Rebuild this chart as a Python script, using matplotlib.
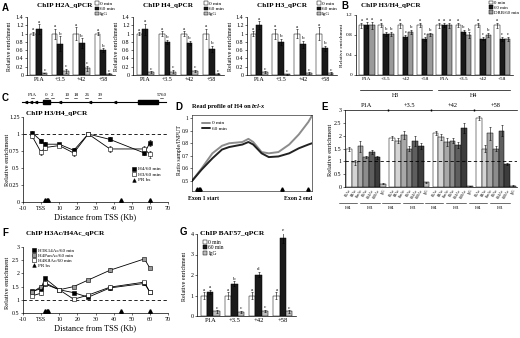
import matplotlib
matplotlib.use("Agg")
import matplotlib.pyplot as plt
import numpy as np
from matplotlib.lines import Line2D
from matplotlib.patches import Patch, Rectangle

plt.rcParams['font.family'] = ['Liberation Serif', 'DejaVu Serif']
plt.rcParams['axes.linewidth'] = 0.5
plt.rcParams['xtick.major.width'] = 0.4
plt.rcParams['ytick.major.width'] = 0.4
plt.rcParams['xtick.major.size'] = 1.5
plt.rcParams['ytick.major.size'] = 1.5
plt.rcParams['xtick.major.pad'] = 1.5
plt.rcParams['ytick.major.pad'] = 1.0

# ---------------- data ----------------
groups4 = ['P1A', '+3.5', '+42', '+58']

# Panel A: H2A
h2a_0 = [1.0, 1.0, 1.0, 1.0]
h2a_60 = [1.10, 0.75, 0.77, 0.60]
h2a_igg = [0.05, 0.10, 0.16, 0.03]
h2a_e0 = [0.04, 0.12, 0.15, 0.03]
h2a_e60 = [0.12, 0.18, 0.12, 0.04]
h2a_ei = [0.01, 0.05, 0.06, 0.01]
h2a_let = [['a', 'a', 'a', 'a'], ['a', 'b', 'b', 'b'], ['c', 'c', 'c', 'c']]
# Panel A: H4
h4_0 = [1.0, 1.0, 1.0, 1.0]
h4_60 = [1.10, 0.80, 0.77, 0.63]
h4_igg = [0.07, 0.08, 0.10, 0.03]
h4_e0 = [0.03, 0.05, 0.06, 0.12]
h4_e60 = [0.13, 0.05, 0.05, 0.08]
h4_ei = [0.02, 0.04, 0.02, 0.01]
h4_let = [['a', 'a', 'a', 'a'], ['a', 'b', 'b', 'b'], ['c', 'c', 'c', 'c']]
# Panel A: H3
h3_0 = [1.0, 1.0, 1.0, 1.0]
h3_60 = [1.20, 0.80, 0.74, 0.64]
h3_igg = [0.07, 0.02, 0.05, 0.05]
h3_e0 = [0.06, 0.12, 0.10, 0.15]
h3_e60 = [0.10, 0.08, 0.08, 0.06]
h3_ei = [0.02, 0.01, 0.02, 0.02]
h3_let = [['a', 'a', 'a', 'a'], ['a', 'b', 'b', 'b'], ['c', 'c', 'c', 'c']]

# Panel B: H3/H4 with DRB
b_groups = groups4 + groups4
b_0 = [1.0, 1.0, 1.0, 1.0, 1.0, 1.0, 1.0, 1.0]
b_60 = [1.0, 0.82, 0.76, 0.72, 1.0, 0.86, 0.73, 0.72]
b_drb = [1.0, 0.82, 0.86, 0.82, 1.0, 0.80, 0.80, 0.72]
b_e0 = [0.05, 0.04, 0.05, 0.04, 0.05, 0.04, 0.04, 0.05]
b_e60 = [0.06, 0.04, 0.04, 0.04, 0.04, 0.04, 0.03, 0.04]
b_edrb = [0.07, 0.04, 0.04, 0.03, 0.05, 0.05, 0.04, 0.04]
b_let = [['a'] * 8,
         ['a', 'b', 'c', 'c', 'a', 'b', 'c', 'c'],
         ['a', 'b', 'b', 'b', 'a', 'b', 'b', 'c']]

# Panel C: H3/H4 profile
c_x = [-5, 0, 2, 10, 18, 26, 38, 57, 60]
c_h4 = [1.02, 0.90, 0.85, 0.85, 0.76, 1.00, 0.92, 0.72, 0.87]
c_h3 = [0.97, 0.73, 0.80, 0.83, 0.72, 1.00, 0.78, 0.78, 0.70]
c_h4e = [0.02, 0.03, 0.03, 0.02, 0.03, 0.02, 0.03, 0.03, 0.04]
c_h3e = [0.03, 0.04, 0.04, 0.02, 0.04, 0.02, 0.04, 0.05, 0.05]
pr_bs = [2, 3, 4, 44, 60]
gene_labels = ['P1A', '0', '2', '10', '18', '26', '39', '5760']

# Panel D: read profile
d_x = [0.0, 0.08, 0.17, 0.25, 0.31, 0.42, 0.47, 0.51, 0.58, 0.64, 0.72, 0.81, 0.89, 0.97, 1.0]
d_0 = [0.50, 0.60, 0.72, 0.78, 0.80, 0.81, 0.835, 0.81, 0.73, 0.72, 0.73, 0.79, 0.87, 0.97, 1.02]
d_60 = [0.50, 0.59, 0.68, 0.75, 0.77, 0.79, 0.81, 0.79, 0.72, 0.69, 0.695, 0.72, 0.76, 0.79, 0.80]
d_pr = [0.04, 0.055, 0.07, 0.75, 0.97]

# Panel E: acetylation marks
e_marks = ['K5Ac', 'K8Ac', 'PanAc', 'K9Ac', 'K14Ac', 'K18Ac', 'IgG']
e_vals = [[1.48, 0.97, 1.58, 1.18, 1.38, 1.15, 0.12],
          [1.90, 1.80, 2.02, 1.50, 1.80, 1.60, 0.18],
          [2.10, 1.95, 1.75, 1.80, 1.65, 2.30, 0.03],
          [2.70, 1.50, 2.10, 1.50, 2.20, 0.90, 0.05]]
e_errs = [[0.08, 0.10, 0.20, 0.04, 0.08, 0.04, 0.02],
          [0.08, 0.10, 0.15, 0.10, 0.20, 0.10, 0.02],
          [0.07, 0.12, 0.15, 0.10, 0.12, 0.20, 0.01],
          [0.08, 0.15, 0.25, 0.10, 0.20, 0.03, 0.01]]

# Panel F: acetylation profile
f_x = [-5, 0, 2, 10, 18, 26, 38, 57, 60]
f_h3k14 = [1.32, 1.42, 1.82, 1.38, 1.27, 1.10, 1.45, 1.62, 1.30]
f_h4pan = [1.28, 1.50, 1.60, 1.38, 1.50, 1.75, 2.12, 2.55, 2.20]
f_h4k8 = [1.15, 1.25, 1.65, 1.38, 1.02, 1.18, 1.48, 1.67, 1.28]
f_err = [0.05, 0.06, 0.06, 0.06, 0.04, 0.04, 0.08, 0.05, 0.05]

# Panel G: BAF57
g_0 = [1.0, 1.0, 1.0, 1.0]
g_60 = [1.18, 1.57, 2.02, 3.80]
g_igg = [0.22, 0.20, 0.25, 0.22]
g_e0 = [0.15, 0.15, 0.15, 0.15]
g_e60 = [0.10, 0.12, 0.12, 0.25]
g_ei = [0.05, 0.05, 0.05, 0.05]
g_let = [['a', 'a', 'a', 'a'], ['a', 'b', 'd', 'e'], ['c', 'c', 'c', 'c']]

# ---------------- layout helpers ----------------
W, H = 520, 338
fig = plt.figure(figsize=(5.2, 3.38), dpi=100)


def add_ax(x0, y0, x1, y1):
    return fig.add_axes([x0 / W, 1 - y1 / H, (x1 - x0) / W, (y1 - y0) / H])


def ftext(x, y, s, **kw):
    fig.text(x / W, 1 - y / H, s, **kw)


def letter(x, y, s):
    ftext(x, y, s, fontsize=7, fontweight='bold', family='Liberation Sans',
          ha='left', va='center')


def style(ax, fs=4.3):
    ax.spines['top'].set_visible(False)
    ax.spines['right'].set_visible(False)
    ax.tick_params(labelsize=fs)


C_WHITE, C_BLACK, C_GRAY = 'white', '#1a1a1a', '#bdbdbd'
EKW = dict(elinewidth=0.4, capsize=0.8, capthick=0.4, ecolor='black')


def bars3(ax, labels, vals, errs, lets, colors, w=0.26, lfs=3.6):
    x = np.arange(len(labels))
    for k, (v, e, c) in enumerate(zip(vals, errs, colors)):
        xs = x + (k - 1) * w
        ax.bar(xs, v, w, color=c, edgecolor='black', linewidth=0.35,
               yerr=e, error_kw=EKW)
        for xi, vi, ei, L in zip(xs, v, e, lets[k]):
            ax.text(xi, vi + ei + 0.01 * ax.get_ylim()[1], L, ha='center',
                    va='bottom', fontsize=lfs)
    ax.set_xticks(x)
    ax.set_xticklabels(labels)
    ax.set_xlim(-0.55, len(labels) - 0.45)
    ax.tick_params(axis='x', length=0)


def legend3(ax, names, colors, loc, bbox, fs=3.8):
    hs = [Patch(facecolor=c, edgecolor='black', linewidth=0.35) for c in colors]
    ax.legend(hs, names, loc=loc, bbox_to_anchor=bbox, frameon=False,
              fontsize=fs, handlelength=0.7, handleheight=0.7,
              handletextpad=0.3, labelspacing=0.1, borderpad=0,
              borderaxespad=0)


def mk(marker, fc, label, ms=2.6):
    return Line2D([], [], ls='none', marker=marker, ms=ms, mfc=fc, mec='black',
                  mew=0.4, label=label)


# ---------------- Panel A ----------------
letter(2, 8, 'A')
a_specs = [((27, 115), 'ChIP H2A_qPCR', (h2a_0, h2a_60, h2a_igg), (h2a_e0, h2a_e60, h2a_ei), h2a_let, 10),
           ((133, 224), 'ChIP H4_qPCR', (h4_0, h4_60, h4_igg), (h4_e0, h4_e60, h4_ei), h4_let, 117),
           ((247, 337), 'ChIP H3_qPCR', (h3_0, h3_60, h3_igg), (h3_e0, h3_e60, h3_ei), h3_let, 231)]
for (x0, x1), title, vals, errs, lets, ylx in a_specs:
    ax = add_ax(x0, 17, x1, 75)
    ax.set_ylim(0, 1.4)
    ax.set_yticks([0, 0.2, 0.4, 0.6, 0.8, 1.0, 1.2, 1.4])
    ax.set_yticklabels(['0', '0.2', '0.4', '0.6', '0.8', '1', '1.2', '1.4'])
    bars3(ax, groups4, vals, errs, lets, [C_WHITE, C_BLACK, C_GRAY])
    style(ax)
    ftext(x0 + 10, 6, title, fontsize=5.2, fontweight='bold', ha='left', va='center')
    ftext(ylx, 46, 'Relative enrichment', fontsize=4.3, rotation=90, ha='center', va='center')
    legend3(ax, ['0 min', '60 min', 'IgG'], [C_WHITE, C_BLACK, C_GRAY],
            'upper right', (1.0, 1.27))

# ---------------- Panel B ----------------
letter(341, 6, 'B')
axb = add_ax(356, 15, 513, 75)
axb.set_ylim(0, 1.2)
axb.set_yticks([0, 0.4, 0.8, 1.2])
axb.set_yticklabels(['0', '0.4', '0.8', '1.2'])
bars3(axb, b_groups, (b_0, b_60, b_drb), (b_e0, b_e60, b_edrb), b_let,
      [C_WHITE, C_BLACK, '#9a9a9a'], w=0.27, lfs=3.4)
style(axb, 3.8)
ftext(361, 6, 'ChIP H3/H4_qPCR', fontsize=5.0, fontweight='bold', ha='left', va='center')
ftext(342, 45, 'Relative enrichment', fontsize=3.9, rotation=90, ha='center', va='center')
legend3(axb, ['0 min', '60 min', 'DRB/60 min'], [C_WHITE, C_BLACK, '#9a9a9a'],
        'upper right', (1.04, 1.24), fs=3.5)
fig.add_artist(Line2D([360 / W, 432 / W], [1 - 90 / H] * 2, color='black', lw=0.5))
fig.add_artist(Line2D([438 / W, 510 / W], [1 - 90 / H] * 2, color='black', lw=0.5))
ftext(396, 95.5, 'H3', fontsize=4.3, ha='center', va='center')
ftext(474, 95.5, 'H4', fontsize=4.3, ha='center', va='center')

# ---------------- Panel C ----------------
letter(2, 98, 'C')
axg = add_ax(20, 92, 170, 107)
axg.set_xlim(20, 170)
axg.set_ylim(0, 15)
axg.axis('off')
axg.plot([22, 166], [5, 5], color='black', lw=0.8)
axg.add_patch(Rectangle((43, 3), 7, 4, color='black'))
axg.add_patch(Rectangle((138, 2.6), 20, 4.8, color='black'))
for ax_ in [26, 31, 36, 60, 90, 115]:
    axg.plot([ax_], [5], marker='<', ms=1.6, color='black')
g_pos = [32, 46, 52, 67, 76, 87, 100, 162]
for gx, gl in zip(g_pos, gene_labels):
    axg.text(gx, 12, gl, fontsize=3.6, ha='center', va='center')
    axg.plot([gx - 1.5, gx + 1.5], [8.5, 8.5], color='black', lw=0.4)

axc = add_ax(23, 117, 168, 202)
axc.set_xlim(-10, 70)
axc.set_ylim(0, 1.25)
axc.axhline(1, color='black', lw=0.6, ls=(0, (4, 3)))
axc.errorbar(c_x, c_h4, yerr=c_h4e, color='black', lw=0.6, marker='s', ms=2.6,
             mfc='black', mec='black', mew=0.4, elinewidth=0.4, capsize=0.8)
axc.errorbar(c_x, c_h3, yerr=c_h3e, color='black', lw=0.6, marker='s', ms=2.6,
             mfc='white', mec='black', mew=0.4, elinewidth=0.4, capsize=0.8)
axc.plot(pr_bs, [0.03] * len(pr_bs), ls='none', marker='^', ms=2.6, color='black')
axc.set_xticks([-10, 0, 10, 20, 30, 40, 50, 60, 70])
axc.set_xticklabels(['-10', 'TSS', '10', '20', '30', '40', '50', '60', '70'])
axc.set_yticks([0, 0.25, 0.5, 0.75, 1.0, 1.25])
axc.set_yticklabels(['0', '0.25', '0.5', '0.75', '1', '1.25'])
style(axc, 4.3)
axc.set_xlabel('Distance from TSS (Kb)', fontsize=6, labelpad=1.5)
ftext(8, 160, 'Relative enrichment', fontsize=4.6, rotation=90, ha='center', va='center')
ftext(26, 114, 'ChIP H3/H4_qPCR', fontsize=5.2, fontweight='bold', ha='left', va='center')
axc.legend(handles=[mk('s', 'black', 'H4/60 min'), mk('s', 'white', 'H3/60 min'),
                    mk('^', 'black', 'PR bs')],
           loc='lower right', bbox_to_anchor=(0.97, 0.2), frameon=False, fontsize=3.8,
           handlelength=1.0, handletextpad=0.3, labelspacing=0.15, borderpad=0)

# ---------------- Panel D ----------------
letter(175, 107, 'D')
axd = add_ax(192, 115, 312, 191)
axd.set_xlim(0, 1)
axd.set_ylim(0.42, 1.025)
axd.plot(d_x, d_0, color='#8c8c8c', lw=1.4, label='0 min', solid_capstyle='round')
axd.plot(d_x, d_60, color='#222222', lw=1.4, label='60 min', solid_capstyle='round')
axd.plot(d_pr, [0.435] * len(d_pr), ls='none', marker='^', ms=2.4, color='black')
axd.set_yticks([0.5, 0.6, 0.7, 0.8, 0.9, 1.0])
axd.set_yticklabels(['0.5', '0.6', '0.7', '0.8', '0.9', '1'])
axd.set_xticks([])
axd.tick_params(labelsize=4.0)
for sp in axd.spines.values():
    sp.set_linewidth(0.4)
axd.legend(loc='upper left', bbox_to_anchor=(0.06, 0.96), frameon=False, fontsize=3.8,
           handlelength=1.6, handletextpad=0.4, labelspacing=0.1, borderpad=0)
ftext(252, 107, 'Read profile of H4 on ', fontsize=4.6, fontweight='bold', ha='right', va='center')
ftext(252, 107, 'bcl-x', fontsize=4.6, fontweight='bold', style='italic', ha='left', va='center')
ftext(180, 150, 'Ratio sample/INPUT', fontsize=4.2, rotation=90, ha='center', va='center')
ftext(203, 198, 'Exon 1 start', fontsize=4.2, fontweight='bold', ha='center', va='center')
ftext(298, 198, 'Exon 2 end', fontsize=4.2, fontweight='bold', ha='center', va='center')

# ---------------- Panel E ----------------
letter(321, 107, 'E')
axe = add_ax(345, 110, 517, 187)
axe.set_ylim(0, 3)
e_cols = ['white', '#d4d4d4', '#a8a8a8', '#8c8c8c', '#5e5e5e', '#3c3c3c', '#c0c0c0']
e_x = []
e_lab = []
for g in range(4):
    xs = g * 7.6 + np.arange(7)
    axe.bar(xs, e_vals[g], 1.0, color=e_cols, edgecolor='black', linewidth=0.35,
            yerr=e_errs[g], error_kw=EKW)
    e_x.extend(xs)
    e_lab.extend(e_marks)
axe.set_xlim(-0.7, 3 * 7.6 + 6.7)
axe.axhline(1, color='black', lw=0.6, ls=(0, (4, 3)))
axe.plot([-0.7, 3 * 7.6 + 6.7], [3, 3], color='black', lw=0.5, clip_on=False)
for g in range(1, 4):
    axe.plot([g * 7.6 - 0.8], [3], marker='|', ms=2, color='black', clip_on=False)
for g, gl in enumerate(groups4):
    axe.text(g * 7.6 + 3, 3.08, gl, fontsize=4.6, ha='center', va='bottom')
axe.set_yticks([0, 0.5, 1, 1.5, 2, 2.5, 3])
axe.set_yticklabels(['0', '0.5', '1', '1.5', '2', '2.5', '3'])
axe.set_xticks(e_x)
axe.set_xticklabels(e_lab, rotation=60, fontsize=2.6, ha='right', rotation_mode='anchor')
axe.tick_params(axis='x', length=0, pad=1)
style(axe, 4.3)
axe.tick_params(axis='x', labelsize=2.6)
ftext(330, 150, 'Relative enrichment', fontsize=4.6, rotation=90, ha='center', va='center')
for g in range(4):
    x0 = 345 + (g * 7.6 - 0.7 + 0.3) * (172 / (3 * 7.6 + 7.4))
    fig.add_artist(Line2D([(x0 - 4) / W, (x0 + 14) / W], [1 - 203 / H] * 2, color='black', lw=0.4))
    fig.add_artist(Line2D([(x0 + 17) / W, (x0 + 37) / W], [1 - 203 / H] * 2, color='black', lw=0.4))
    ftext(x0 + 5, 208, 'H4', fontsize=3.8, ha='center', va='center')
    ftext(x0 + 27, 208, 'H3', fontsize=3.8, ha='center', va='center')

# ---------------- Panel F ----------------
letter(2, 233, 'F')
axf = add_ax(23, 247, 168, 313)
axf.set_xlim(-10, 70)
axf.set_ylim(0.5, 3)
axf.axhline(1, color='black', lw=0.6, ls=(0, (4, 3)))
axf.errorbar(f_x, f_h3k14, yerr=f_err, color='black', lw=0.6, marker='s', ms=2.4,
             mfc='black', mec='black', mew=0.4, elinewidth=0.4, capsize=0.8)
axf.errorbar(f_x, f_h4pan, yerr=f_err, color='black', lw=0.6, marker='s', ms=2.4,
             mfc='#9a9a9a', mec='black', mew=0.4, elinewidth=0.4, capsize=0.8)
axf.errorbar(f_x, f_h4k8, yerr=f_err, color='black', lw=0.6, marker='s', ms=2.4,
             mfc='white', mec='black', mew=0.4, elinewidth=0.4, capsize=0.8)
axf.plot(pr_bs, [0.56] * len(pr_bs), ls='none', marker='^', ms=2.6, color='black')
axf.set_xticks([-10, 0, 10, 20, 30, 40, 50, 60, 70])
axf.set_xticklabels(['-10', 'TSS', '10', '20', '30', '40', '50', '60', '70'])
axf.set_yticks([0.5, 1, 1.5, 2, 2.5, 3])
axf.set_yticklabels(['0.5', '1', '1.5', '2', '2.5', '3'])
style(axf, 4.3)
axf.set_xlabel('Distance from TSS (Kb)', fontsize=6, labelpad=1.5)
ftext(8, 283, 'Relative enrichment', fontsize=4.6, rotation=90, ha='center', va='center')
ftext(26, 234, 'ChIP H3Ac/H4Ac_qPCR', fontsize=5.2, fontweight='bold', ha='left', va='center')
axf.legend(handles=[mk('s', 'black', 'H3K14Ac/60 min', 2.4), mk('s', '#9a9a9a', 'H4PanAc/60 min', 2.4),
                    mk('s', 'white', 'H4K8Ac/60 min', 2.4), mk('^', 'black', 'PR bs', 2.6)],
           loc='upper left', bbox_to_anchor=(0.04, 1.02), frameon=False, fontsize=3.6,
           handlelength=1.0, handletextpad=0.3, labelspacing=0.1, borderpad=0)

# ---------------- Panel G ----------------
letter(180, 232, 'G')
axgg = add_ax(197, 234, 296, 316)
axgg.set_ylim(0, 4)
axgg.set_yticks([0, 1, 2, 3, 4])
bars3(axgg, groups4, (g_0, g_60, g_igg), (g_e0, g_e60, g_ei), g_let,
      [C_WHITE, C_BLACK, C_GRAY])
style(axgg, 4.3)
axgg.tick_params(axis='x', labelsize=4.8)
ftext(200, 233, 'ChIP BAF57_qPCR', fontsize=5.4, fontweight='bold', ha='left', va='center')
ftext(184, 276, 'Relative enrichment', fontsize=4.3, rotation=90, ha='center', va='center')
legend3(axgg, ['0 min', '60 min', 'IgG'], [C_WHITE, C_BLACK, C_GRAY],
        'upper left', (0.06, 0.93), fs=4.0)

fig.savefig('out.png', dpi=100)
